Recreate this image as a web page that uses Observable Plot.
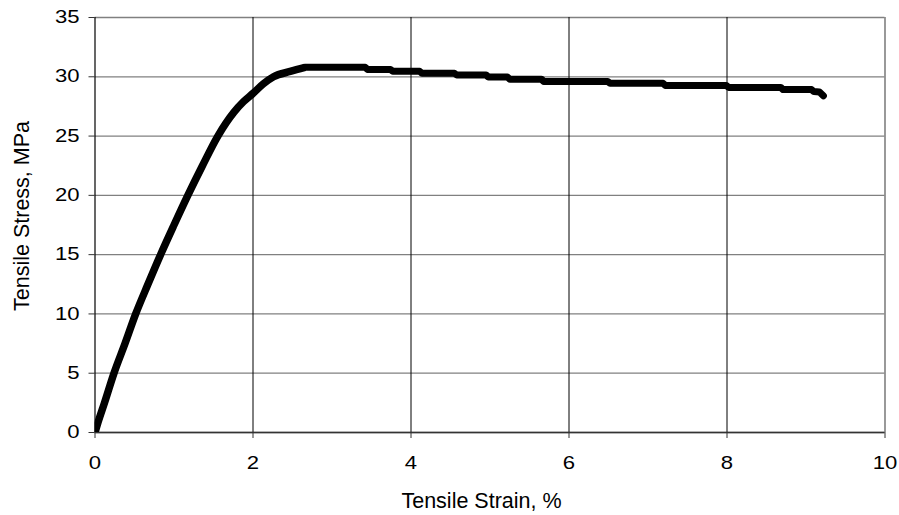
<!DOCTYPE html>
<html>
<head>
<meta charset="utf-8">
<script src="https://cdn.jsdelivr.net/npm/d3@7"></script>
<script src="https://cdn.jsdelivr.net/npm/@observablehq/plot@0.6"></script>
<style>
  html, body { margin: 0; padding: 0; background: #fff; }
  svg { display: block; }
</style>
</head>
<body>
<script>
// Tensile strain (%) and tensile stress (MPa)
// rising (elastic) part
const strainRise = [0, 0.05, 0.12, 0.24, 0.38, 0.515, 0.67, 0.83, 1.0, 1.175, 1.36, 1.555, 1.757, 1.88, 2.0, 2.13, 2.26, 2.47, 2.66];
const stressRise = [0, 1.1, 2.5, 5.0, 7.5, 10.0, 12.5, 15.0, 17.5, 20.0, 22.5, 25.0, 27.0, 27.9, 28.6, 29.4, 30.0, 30.45, 30.8];
// stepped plateau part
const strainFlat = [2.66, 3.42, 3.45, 3.74, 3.77, 4.11, 4.14, 4.55, 4.58, 4.95, 4.98, 5.22, 5.25, 5.65, 5.68, 6.49, 6.52, 7.19, 7.22, 7.99, 8.02, 8.68, 8.71, 9.07, 9.1, 9.17, 9.22];
const stressFlat = [30.8, 30.8, 30.62, 30.62, 30.46, 30.46, 30.29, 30.29, 30.15, 30.15, 29.98, 29.98, 29.8, 29.8, 29.61, 29.61, 29.45, 29.45, 29.27, 29.27, 29.1, 29.1, 28.92, 28.92, 28.75, 28.72, 28.4];
const xTicks = [0, 2, 4, 6, 8, 10];
const yTicks = [0, 5, 10, 15, 20, 25, 30, 35];
const xTitle = "Tensile Strain, %";
const yTitle = "Tensile Stress, MPa";

const rise = strainRise.map((x, i) => ({x, y: stressRise[i]}));
const flat = strainFlat.map((x, i) => ({x, y: stressFlat[i]}));

const chart = Plot.plot({
  width: 899,
  height: 515,
  marginLeft: 94.5,
  marginRight: 14.5,
  marginTop: 17,
  marginBottom: 83,
  style: {fontFamily: "'Liberation Sans', Arial, sans-serif", background: "#fff", color: "#000"},
  x: {domain: [0, 10]},
  y: {domain: [0, 35]},
  marks: [
    Plot.gridY(yTicks, {stroke: "#808080", strokeOpacity: 1, strokeWidth: 1.3}),
    Plot.gridX(xTicks.filter(d => d > 0 && d < 10), {stroke: "#000", strokeOpacity: 1, strokeWidth: 1}),
    Plot.ruleX([10], {stroke: "#808080", strokeWidth: 1.6}),
    Plot.ruleX([0], {stroke: "#000", strokeWidth: 1.2}),
    Plot.ruleY([0], {stroke: "#333", strokeWidth: 1.5}),
    Plot.axisY({ticks: yTicks, tickSize: 6, tickPadding: 9.5, label: null, fontSize: 17.7, stroke: "#333"}),
    Plot.axisX({ticks: xTicks, tickSize: 6, tickPadding: 18, label: null, fontSize: 17.7, stroke: "#333"}),
    Plot.line(rise, {x: "x", y: "y", curve: "monotone-x", stroke: "#000", strokeWidth: 7.5, strokeLinejoin: "round", strokeLinecap: "butt", clip: true}),
    Plot.line(flat, {x: "x", y: "y", stroke: "#000", strokeWidth: 7, strokeLinejoin: "round", strokeLinecap: "round"}),
    Plot.text([xTitle], {frameAnchor: "bottom", textAnchor: "middle", lineAnchor: "middle", dx: -8.5, dy: 69, fontSize: 21.5, fill: "#000"}),
    Plot.text([yTitle], {frameAnchor: "left", textAnchor: "middle", lineAnchor: "middle", rotate: -90, dx: -73, dy: -9, fontSize: 21.5, fill: "#000"})
  ]
});

document.body.append(chart);

// tick labels in the reference are horizontally wide: stretch glyphs
chart.querySelectorAll('g[aria-label="x-axis tick label"] text, g[aria-label="y-axis tick label"] text').forEach(t => {
  const L = t.getComputedTextLength();
  t.setAttribute("textLength", (L * 1.25).toFixed(2));
  t.setAttribute("lengthAdjust", "spacingAndGlyphs");
});
</script>
</body>
</html>
